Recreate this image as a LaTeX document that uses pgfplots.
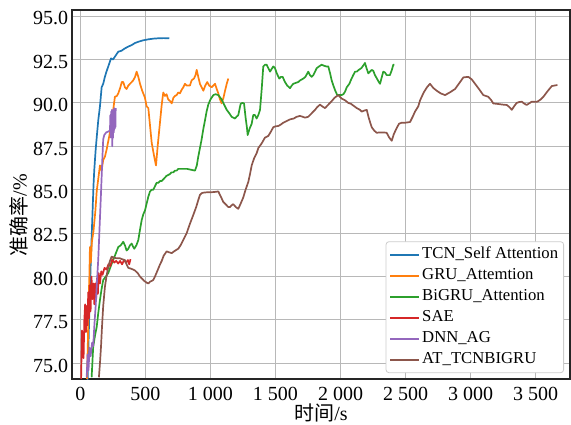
\documentclass[border=0pt]{standalone}
\usepackage{fontspec}
\setmainfont{Liberation Serif}
\newfontfamily\cjk{Noto Sans CJK SC}
\usepackage{pgfplots}
\pgfplotsset{compat=1.18}

\definecolor{c1}{HTML}{1F77B4}
\definecolor{c2}{HTML}{FF7F0E}
\definecolor{c3}{HTML}{2CA02C}
\definecolor{c4}{HTML}{D62728}
\definecolor{c5}{HTML}{9467BD}
\definecolor{c6}{HTML}{8C564B}
\definecolor{gridc}{HTML}{B8B8B8}
\definecolor{legc}{HTML}{CCCCCC}

\begin{document}
\begin{tikzpicture}
\begin{axis}[
    scale only axis,
    width=498bp, height=369bp,
    xmin=-65, xmax=3765,
    ymin=74.1, ymax=95.35,
    xtick={0,500,1000,1500,2000,2500,3000,3500},
    ytick={75,77.5,80,82.5,85,87.5,90,92.5,95},
    /pgf/number format/assume math mode=true,
    /pgf/number format/1000 sep={\ },
    tick label style={font=\fontsize{20bp}{23bp}\selectfont, inner sep=0pt},
    xticklabel style={anchor=north, yshift=-7.5bp},
    yticklabel style={anchor=east, xshift=-3.7bp, yshift=-2.3bp,
        /pgf/number format/fixed, /pgf/number format/fixed zerofill,
        /pgf/number format/precision=1},
    major tick length=0pt,
    grid=major,
    grid style={gridc, line width=1bp},
    axis line style={black!85, line width=1.2bp},
    label style={font=\fontsize{20bp}{23bp}\selectfont, inner sep=0pt},
    xlabel={{\cjk 时间}/s},
    ylabel={{\cjk 准确率}/\%},
    xlabel style={at={(axis description cs:0.5,0)}, anchor=center, yshift=-34bp},
    ylabel style={at={(axis description cs:-0.1064,0.444)}, anchor=center},
    legend cell align=left,
    legend image code/.code={\draw[#1, line width=1.7bp] (0bp,0bp) -- (29bp,0bp);},
    legend style={at={(axis description cs:0.988,0.016)}, anchor=south east,
        draw=legc, line width=0.8bp, rounded corners=3bp, fill=white,
        font=\fontsize{16.7bp}{19bp}\selectfont,
        inner sep=3.5bp, row sep=2bp,
        nodes={inner sep=2bp, text height=11bp, text depth=4bp}},
    every axis plot/.append style={line width=1.7bp, line join=round},
]

\addplot[c1] coordinates {
(55,74.0) (70,78.5) (80,81.0) (92,83.5) (100,85.2) (106,86.1) (117,87.3) (125,88.0)
(137,89.0) (150,89.8) (163,90.9) (175,91.1) (188,91.5) (200,91.8) (214,92.1) (235,92.56)
(250,92.5) (265,92.66) (291,92.95) (315,93.0) (342,93.14) (370,93.25) (394,93.33) (420,93.45)
(445,93.52) (480,93.6) (522,93.66) (560,93.7) (598,93.72) (640,93.73) (683,93.72)
};
\addlegendentry{TCN\_Self Attention}

\addplot[c2] coordinates {
(50,74.1) (58,76.5) (62,78.6) (68,79.8) (73,81.7) (80,80.8) (88,82.0) (100,82.6) (115,83.8)
(125,84.9) (140,85.8) (150,86.4) (162,86.1) (175,86.7) (188,86.9) (201,87.3) (214,87.8)
(227,88.3) (240,89.0) (252,89.6) (265,90.35) (280,90.4) (291,90.55) (305,90.85) (318,91.2)
(329,91.2) (342,90.9) (355,90.8) (368,91.0) (381,91.1) (394,91.2) (406,91.3) (420,91.5)
(432,91.8) (445,91.5) (458,91.1) (475,90.7) (496,90.3) (509,89.8) (522,89.7) (535,88.7)
(548,87.7) (560,87.2) (570,86.8) (581,86.4) (595,87.6) (612,88.9) (625,89.9) (637,90.6)
(650,90.4) (662,90.5) (675,90.2) (690,90.1) (702,89.97) (715,90.3) (727,90.4) (740,90.45)
(752,90.6) (765,90.55) (778,90.75) (791,90.9) (804,91.1) (817,91.0) (830,91.0) (842,91.0)
(855,91.3) (873,91.4) (885,91.6) (894,91.9) (906,91.5) (919,91.1) (932,90.9) (945,90.7)
(960,91.0) (975,91.2) (990,91.0) (1009,90.9) (1022,91.0) (1035,91.1) (1048,90.8) (1060,90.55)
(1073,90.2) (1086,89.97) (1100,90.3) (1112,90.7) (1125,91.1) (1137,91.4)
};
\addlegendentry{GRU\_Attemtion}

\addplot[c3] coordinates {
(86,74.2) (98,75.95) (112,76.6) (125,77.1) (137,77.9) (150,78.65) (163,79.3) (175,79.8)
(195,80.0) (214,80.2) (233,80.6) (252,80.95) (270,81.3) (291,81.7) (310,81.8) (329,82.0)
(342,81.8) (355,81.5) (368,81.6) (381,81.8) (394,81.9) (406,81.7) (414,81.6) (430,81.8)
(445,82.1) (458,82.7) (471,83.25) (484,83.6) (496,83.8) (509,84.2) (522,84.6) (535,84.9)
(548,85.0) (560,85.0) (573,85.2) (586,85.4) (600,85.4) (612,85.5) (625,85.5) (637,85.6)
(650,85.7) (662,85.8) (675,85.85) (688,85.9) (700,86.0) (714,86.0) (727,86.1) (740,86.1)
(752,86.2) (765,86.2) (791,86.2) (820,86.2) (850,86.15) (881,86.1) (895,86.4) (906,86.9)
(919,87.4) (932,87.9) (945,88.5) (958,89.0) (970,89.5) (983,89.9) (1000,90.2) (1022,90.45)
(1040,90.5) (1060,90.45) (1086,90.2) (1105,89.9) (1125,89.6) (1145,89.4) (1163,89.2)
(1188,89.1) (1200,89.2) (1214,89.3) (1225,89.7) (1232,89.95) (1245,90.0) (1258,89.97)
(1265,89.5) (1271,89.1) (1280,88.6) (1286,88.15) (1300,88.5) (1317,88.8) (1329,89.3)
(1342,89.3) (1355,89.1) (1368,89.3) (1381,89.6) (1394,90.8) (1406,92.1) (1420,92.2)
(1432,92.2) (1445,92.0) (1458,91.8) (1470,91.95) (1483,92.1) (1496,92.0) (1510,91.7)
(1529,91.4) (1542,91.5) (1555,91.5) (1573,91.2) (1590,91.0) (1612,90.85) (1625,91.0)
(1637,91.1) (1655,91.15) (1675,91.2) (1690,91.3) (1714,91.4) (1730,91.5) (1752,91.8)
(1765,91.6) (1778,91.5) (1791,91.6) (1804,91.8) (1817,92.0) (1835,92.1) (1855,92.2)
(1870,92.15) (1890,92.1) (1906,92.1) (1920,91.7) (1932,91.3) (1945,91.0) (1960,90.7)
(1975,90.45) (1990,90.45) (2009,90.45) (2022,90.5) (2035,90.65) (2048,90.9) (2068,91.1)
(2085,91.4) (2098,91.6) (2112,91.8) (2125,91.8) (2140,91.9) (2160,92.0) (2175,92.15)
(2188,92.3) (2200,92.0) (2214,91.7) (2227,91.8) (2240,91.9) (2252,91.85) (2265,91.6)
(2280,91.4) (2295,91.2) (2304,91.1) (2318,91.5) (2329,91.8) (2342,91.75) (2355,91.6)
(2368,91.6) (2380,91.6) (2395,91.9) (2406,92.2) (2415,92.2)
};
\addlegendentry{BiGRU\_Attention}

\addplot[c4] coordinates {
(5,74.1) (9,75.8) (12,76.9) (16,75.5) (20,76.8) (24,75.3) (30,77.5) (36,78.4) (42,76.8)
(48,78.3) (54,77.2) (60,79.1) (66,77.6) (72,79.5) (78,78.0) (85,80.0) (92,78.7) (100,79.6)
(107,78.4) (114,79.6) (120,78.6) (127,79.9) (134,79.0) (140,80.2) (150,79.6) (160,80.3)
(170,80.1) (185,80.5) (200,80.4) (215,80.7) (230,80.6) (245,81.0) (260,80.8) (275,80.9)
(290,80.75) (305,80.9) (320,80.7) (335,80.95) (350,80.8) (365,80.95) (375,80.7) (385,81.0)
};
\addlegendentry{SAE}

\addplot[c5] coordinates {
(48,74.2) (55,75.5) (62,74.6) (70,75.9) (78,75.4) (90,76.2) (98,76.0) (108,77.3) (117,78.3)
(127,79.7) (137,81.0) (148,83.0) (158,84.8) (168,86.7) (175,87.9) (183,88.15) (198,88.3)
(214,88.35) (227,88.4) (230,89.3) (233,88.0) (236,89.5) (239,88.1) (242,89.6) (245,87.5)
(248,89.2) (251,88.0) (254,89.6) (257,88.3) (260,89.7) (263,88.5) (266,89.6) (269,88.6)
(271,89.7)
};
\addlegendentry{DNN\_AG}

\addplot[c6] coordinates {
(142,74.2) (150,75.0) (158,75.95) (165,77.0) (175,78.3) (188,79.4) (200,80.0) (214,80.57)
(227,80.9) (240,81.15) (255,81.1) (278,81.05) (304,81.05) (320,81.0) (342,80.95) (355,80.7)
(368,80.5) (390,80.45) (406,80.4) (419,80.35) (440,80.2) (458,80.0) (471,79.9) (490,79.75)
(509,79.65) (522,79.6) (535,79.7) (548,79.75) (560,79.8) (573,80.0) (590,80.3) (612,80.7)
(625,80.9) (640,81.2) (663,81.45) (680,81.4) (702,81.35) (720,81.45) (740,81.55) (752,81.6)
(770,81.8) (790,82.1) (817,82.5) (840,83.0) (868,83.55) (890,84.0) (906,84.4) (919,84.7)
(932,84.8) (945,84.83) (970,84.85) (996,84.85) (1030,84.87) (1060,84.9) (1080,84.6)
(1098,84.3) (1112,84.2) (1137,84.0) (1150,84.0) (1162,84.1) (1175,84.17) (1195,84.0)
(1214,83.9) (1232,84.2) (1252,84.55) (1270,85.0) (1291,85.45) (1304,85.9) (1317,86.4)
(1335,86.8) (1355,87.1) (1368,87.4) (1394,87.67) (1419,88.0) (1445,88.1) (1465,88.35)
(1483,88.6) (1500,88.65) (1522,88.67) (1540,88.75) (1560,88.86) (1585,88.95) (1612,89.05)
(1640,89.1) (1663,89.2) (1688,89.25) (1710,89.2) (1727,89.15) (1752,89.2) (1765,89.3)
(1791,89.5) (1804,89.6) (1820,89.75) (1842,89.9) (1860,89.8) (1881,89.7) (1900,89.85)
(1932,90.1) (1955,90.3) (1983,90.45) (2009,90.25) (2035,90.15) (2060,90.0) (2080,89.95)
(2098,89.85) (2125,89.7) (2150,89.6) (2163,89.5) (2180,89.55) (2202,89.6) (2215,89.2)
(2227,88.9) (2240,88.6) (2260,88.4) (2278,88.28) (2304,88.3) (2330,88.3) (2355,88.28)
(2375,88.0) (2394,87.82) (2410,88.2) (2432,88.55) (2450,88.8) (2471,88.86) (2500,88.86)
(2535,88.9) (2555,89.2) (2573,89.5) (2598,89.8) (2612,90.15) (2640,90.6) (2665,90.9)
(2688,91.1) (2715,90.85) (2740,90.7) (2770,90.55) (2804,90.45) (2840,90.6) (2881,90.8)
(2910,91.1) (2945,91.47) (2983,91.5) (3010,91.35) (3035,91.1) (3065,90.8) (3098,90.45)
(3137,90.35) (3160,90.15) (3175,89.97) (3220,89.93) (3250,89.9) (3279,89.88) (3300,89.75)
(3317,89.6) (3335,89.8) (3355,90.0) (3375,90.05) (3394,90.07) (3415,89.95) (3432,89.88)
(3450,89.97) (3471,90.07) (3514,90.07) (3540,90.2) (3560,90.35) (3590,90.65) (3625,90.97)
(3668,91.03)
};
\addlegendentry{AT\_TCNBIGRU}

\end{axis}
\path (-72bp,-46bp) rectangle (499bp,379bp);
\end{tikzpicture}
\end{document}
